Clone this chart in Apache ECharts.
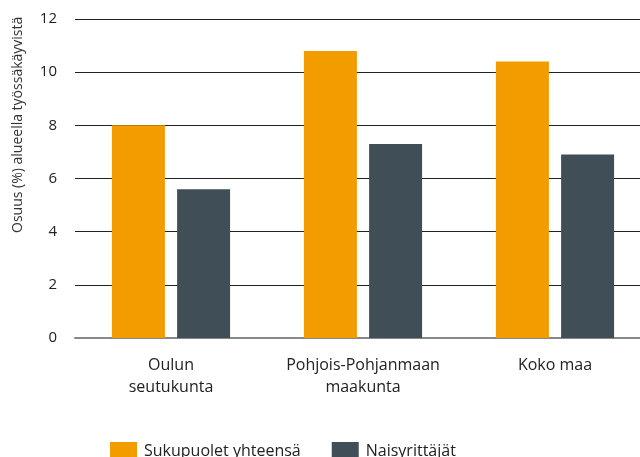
<!DOCTYPE html>
<html>
<head>
<meta charset="utf-8">
<script src="https://cdn.jsdelivr.net/npm/echarts@6/dist/echarts.min.js"></script>
<style>
  html, body { margin: 0; padding: 0; background: #fff; }
  #chart { width: 640px; height: 457px; }
</style>
</head>
<body>
<div id="chart"></div>
<script>
// alueet
const categories = ['Oulun\nseutukunta', 'Pohjois-Pohjanmaan\nmaakunta', 'Koko maa']
// osuudet (%)
const kaikki = [8.0, 10.8, 10.4]
const naiset = [5.6, 7.3, 6.9]
const yTicks = [0, 2, 4, 6, 8, 10, 12]

var chart = echarts.init(document.getElementById('chart'))
var font = '"Open Sans", "Noto Sans", sans-serif'

var option = {
  animation: false,
  textStyle: { fontFamily: font },
  grid: { left: 75, width: 576, top: 19, bottom: 119, outerBoundsMode: 'none', containLabel: false },
  legend: {
    left: 105,
    top: 437,
    itemWidth: 27,
    itemHeight: 18,
    itemGap: 31,
    icon: 'rect',
    textStyle: { fontSize: 16, color: '#222', fontFamily: font, padding: [0, 0, 0, 2] },
    data: ['Sukupuolet yhteensä', 'Naisyrittäjät']
  },
  graphic: [{
    type: 'text',
    x: 11,
    y: 233,
    rotation: Math.PI / 2,
    style: {
      text: 'Osuus (%) alueella työssäkäyvistä',
      font: '14px ' + font,
      fill: '#333'
    }
  }],
  xAxis: {
    type: 'category',
    data: categories,
    axisTick: { show: false },
    axisLine: { lineStyle: { color: '#888', width: 2 } },
    axisLabel: { color: '#222', fontSize: 16, margin: 16, lineHeight: 22, interval: 0, hideOverlap: false }
  },
  yAxis: {
    type: 'value',
    min: 0,
    max: 12,
    interval: 2,
    axisLine: { show: false },
    axisTick: { show: false },
    splitLine: { lineStyle: { color: '#222', width: 1 } },
    axisLabel: {
      color: '#222',
      fontSize: 15,
      margin: 18,
      formatter: function (v) { return yTicks.indexOf(v) >= 0 ? String(v) : '' }
    }
  },
  series: [
    {
      name: 'Sukupuolet yhteensä',
      type: 'bar',
      data: kaikki,
      barWidth: 53,
      barGap: '23%',
      itemStyle: { color: '#f39c00' }
    },
    {
      name: 'Naisyrittäjät',
      type: 'bar',
      data: naiset,
      barWidth: 53,
      itemStyle: { color: '#404f57' }
    }
  ]
}
chart.setOption(option)
</script>
</body>
</html>
